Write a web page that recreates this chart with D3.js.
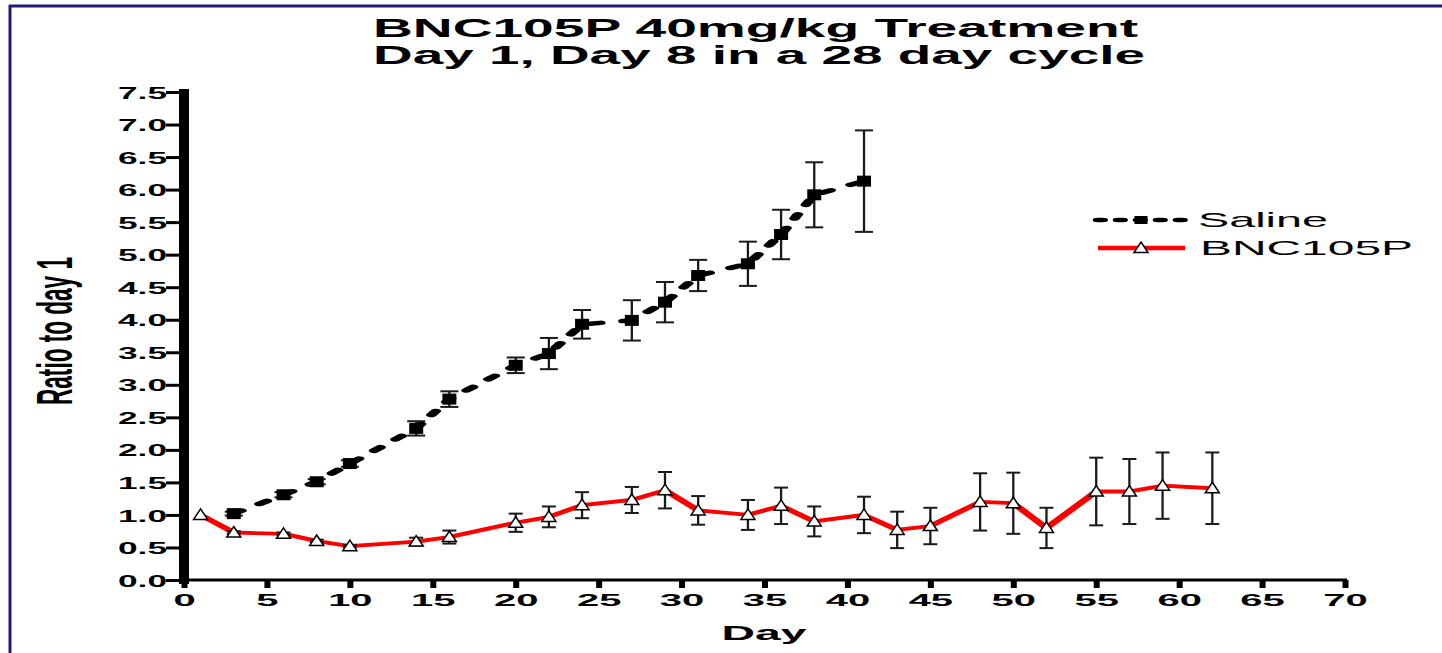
<!DOCTYPE html>
<html><head><meta charset="utf-8">
<script src="https://cdn.jsdelivr.net/npm/d3@7/dist/d3.min.js"></script>
<style>
html,body{margin:0;padding:0;background:#fff;}
svg{display:block;}
text{font-family:"Liberation Sans",Arial,Helvetica,sans-serif;}
</style></head>
<body>
<svg id="chart" width="1442" height="653"></svg>
<script>
// ---- data ----
const titleLines = ["BNC105P 40mg/kg Treatment", "Day 1, Day 8 in a 28 day cycle"];
const xLabel = "Day";
const yLabel = "Ratio to day 1";
const seriesNames = ["Saline", "BNC105P"];
const xTicks = [0,5,10,15,20,25,30,35,40,45,50,55,60,65,70];
const yTicks = [0,0.5,1,1.5,2,2.5,3,3.5,4,4.5,5,5.5,6,6.5,7,7.5];

const salineDays = [3,6,8,10,14,16,20,22,24,27,29,31,34,36,38,41];
const salineMean = [1.02,1.31,1.51,1.79,2.33,2.78,3.30,3.48,3.93,3.99,4.27,4.68,4.86,5.31,5.92,6.13];
const salineErr  = [0.03,0.04,0.04,0.05,0.11,0.12,0.12,0.24,0.22,0.31,0.31,0.24,0.34,0.38,0.50,0.78];

const bncDays = [1,3,6,8,10,14,16,20,22,24,27,29,31,34,36,38,41,43,45,48,50,52,55,57,59,62];
const bncMean = [1.0,0.73,0.71,0.60,0.52,0.59,0.66,0.88,0.97,1.15,1.23,1.38,1.07,1.00,1.14,0.90,1.00,0.77,0.83,1.20,1.18,0.80,1.36,1.36,1.45,1.41];
const bncErr  = [0,0.02,0.02,0.02,0.02,0.06,0.10,0.14,0.16,0.20,0.20,0.28,0.22,0.23,0.28,0.23,0.28,0.28,0.28,0.44,0.47,0.31,0.52,0.50,0.51,0.55];

// ---- layout ----
const SX = 2.35; // horizontal stretch of the original picture
const svg = d3.select("#chart");
const x = d3.scaleLinear().domain([0,70]).range([184,1345]);
const y = d3.scaleLinear().domain([0,7.5]).range([580,92]);

// frame
svg.append("line").attr("x1",9).attr("x2",1442).attr("y1",6).attr("y2",6).attr("stroke","#1c1c7e").attr("stroke-width",3);
svg.append("line").attr("x1",10).attr("x2",10).attr("y1",5).attr("y2",653).attr("stroke","#1c1c7e").attr("stroke-width",3);

// title
svg.append("text").attr("x",373).attr("y",37).attr("font-size",25).attr("font-weight","bold")
  .attr("textLength",765).attr("lengthAdjust","spacingAndGlyphs").text(titleLines[0]);
svg.append("text").attr("x",373).attr("y",64).attr("font-size",25).attr("font-weight","bold")
  .attr("textLength",772).attr("lengthAdjust","spacingAndGlyphs").text(titleLines[1]);

// y axis
const gy = svg.append("g").attr("transform",`translate(${x(0)},0)`)
  .call(d3.axisLeft(y).tickValues(yTicks).tickFormat(d3.format(".1f")).tickSize(18).tickSizeOuter(0).tickPadding(2));
gy.select(".domain").remove();
gy.selectAll(".tick line").attr("stroke","#000").attr("stroke-width",3);
gy.selectAll(".tick text").attr("font-size",17).attr("font-weight","bold").attr("fill","#000")
  .attr("font-family",'"Liberation Sans",Arial,sans-serif')
  .attr("x",-17/SX).attr("dy","0.36em").attr("textLength",49/SX).attr("lengthAdjust","spacingAndGlyphs")
  .attr("transform",`scale(${SX},1)`);
gy.append("line").attr("x1",0).attr("x2",0).attr("y1",y(7.5)-3).attr("y2",y(0)+4).attr("stroke","#000").attr("stroke-width",10);

// x axis
const gx = svg.append("g").attr("transform",`translate(0,${y(0)})`)
  .call(d3.axisBottom(x).tickValues(xTicks).tickFormat(d3.format("d")).tickSize(8).tickSizeOuter(0).tickPadding(6));
gx.select(".domain").remove();
gx.append("line").attr("x1",x(0)-4).attr("x2",x(70)+2).attr("y1",0).attr("y2",0).attr("stroke","#000").attr("stroke-width",3);
gx.selectAll(".tick line").attr("stroke","#000").attr("stroke-width",6);
gx.selectAll(".tick text").attr("font-size",17).attr("font-weight","bold").attr("fill","#000")
  .attr("font-family",'"Liberation Sans",Arial,sans-serif')
  .attr("transform",`scale(${SX},1)`);

// axis titles
svg.append("text").attr("x",764).attr("y",640).attr("text-anchor","middle").attr("font-size",21).attr("font-weight","bold")
  .attr("textLength",85).attr("lengthAdjust","spacingAndGlyphs").text(xLabel);
svg.append("text").attr("transform",`translate(72,331) rotate(-90) scale(1,${SX})`).attr("text-anchor","middle")
  .attr("font-size",21).attr("font-weight","bold").attr("textLength",148).attr("lengthAdjust","spacingAndGlyphs").text(yLabel);

const saline = salineDays.map((d,i)=>({d, v:salineMean[i], e:salineErr[i]}));
const bnc = bncDays.map((d,i)=>({d, v:bncMean[i], e:bncErr[i]}));

// lines drawn in stretched space (so stroke thickness looks like the stretched original)
const gs = svg.append("g").attr("transform",`scale(${SX},1)`);
const line = d3.line().x(p=>x(p.d)/SX).y(p=>y(p.v));
gs.append("path").datum(saline).attr("d",line).attr("fill","none").attr("stroke","#000")
  .attr("stroke-width",4.5).attr("stroke-linecap","round").attr("stroke-dasharray","4.5,10");
gs.append("path").datum(bnc).attr("d",line).attr("fill","none").attr("stroke","#ff0000")
  .attr("stroke-width",3.8).attr("stroke-linejoin","round");

// error bars
function errorBars(data, capW){
  const g = svg.append("g").attr("stroke","#1a1a1a").attr("stroke-width",2);
  data.filter(p=>p.e>0).forEach(p=>{
    const cx = x(p.d), t = y(p.v+p.e), b = y(p.v-p.e);
    g.append("line").attr("x1",cx).attr("x2",cx).attr("y1",t).attr("y2",b).attr("stroke-width",2.3);
    g.append("line").attr("x1",cx-capW/2).attr("x2",cx+capW/2).attr("y1",t).attr("y2",t);
    g.append("line").attr("x1",cx-capW/2).attr("x2",cx+capW/2).attr("y1",b).attr("y2",b);
  });
}
errorBars(saline, 18);
errorBars(bnc, 14);

// markers
const tri = "M0,-6L7,4.5L-7,4.5Z";
svg.append("g").selectAll("rect").data(saline).join("rect")
  .attr("x",p=>x(p.d)-7).attr("y",p=>y(p.v)-5.5).attr("width",14).attr("height",11).attr("fill","#000");
svg.append("g").selectAll("path").data(bnc).join("path")
  .attr("transform",p=>`translate(${x(p.d)},${y(p.v)})`).attr("d",tri)
  .attr("fill","#fff").attr("stroke","#000").attr("stroke-width",1.5);

// legend
const legY = [220, 248];
const lx1 = 1098, lx2 = 1185, lmx = 1141;
gs.append("line").attr("x1",lx1/SX).attr("x2",lx2/SX).attr("y1",legY[0]).attr("y2",legY[0])
  .attr("stroke","#000").attr("stroke-width",4.5).attr("stroke-linecap","round").attr("stroke-dasharray","2,6.5");
gs.append("line").attr("x1",lx1/SX).attr("x2",lx2/SX).attr("y1",legY[1]).attr("y2",legY[1])
  .attr("stroke","#ff0000").attr("stroke-width",4.5);
svg.append("rect").attr("x",lmx-6.5).attr("y",legY[0]-4).attr("width",13).attr("height",8).attr("fill","#000");
svg.append("path").attr("transform",`translate(${lmx},${legY[1]})`).attr("d",tri)
  .attr("fill","#fff").attr("stroke","#000").attr("stroke-width",1.5);
svg.append("text").attr("x",1198).attr("y",227).attr("font-size",21)
  .attr("textLength",130).attr("lengthAdjust","spacingAndGlyphs").text(seriesNames[0]);
svg.append("text").attr("x",1200).attr("y",255).attr("font-size",21)
  .attr("textLength",213).attr("lengthAdjust","spacingAndGlyphs").text(seriesNames[1]);
</script>
</body></html>
